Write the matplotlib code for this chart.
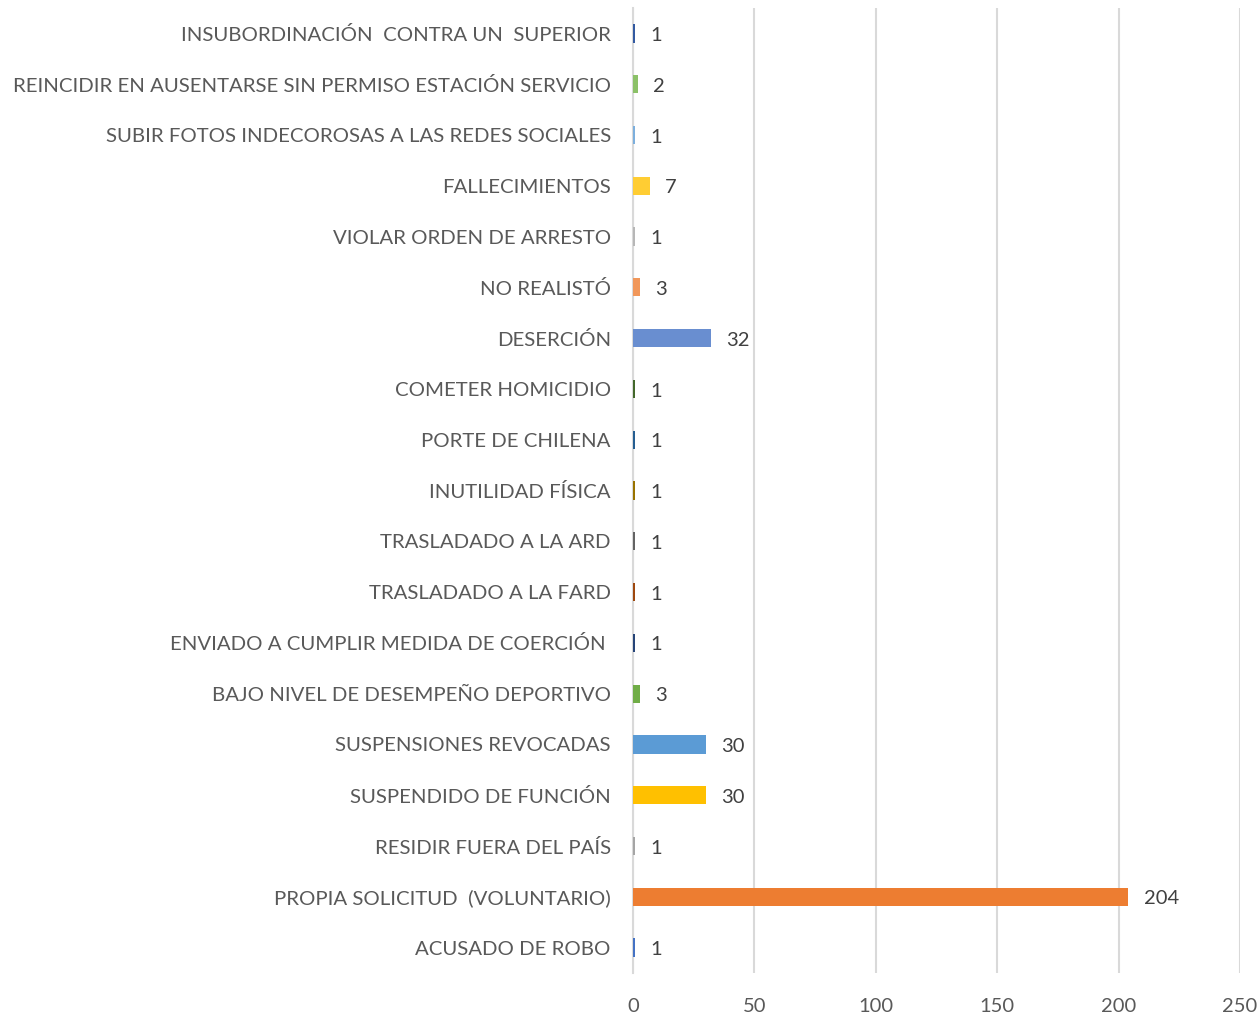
import matplotlib.pyplot as plt

# categories from bottom to top
categorias = [
    'ACUSADO DE ROBO',
    'PROPIA SOLICITUD  (VOLUNTARIO)',
    'RESIDIR FUERA DEL PAÍS',
    'SUSPENDIDO DE FUNCIÓN',
    'SUSPENSIONES REVOCADAS',
    'BAJO NIVEL DE DESEMPEÑO DEPORTIVO',
    'ENVIADO A CUMPLIR MEDIDA DE COERCIÓN ',
    'TRASLADADO A LA FARD',
    'TRASLADADO A LA ARD',
    'INUTILIDAD FÍSICA',
    'PORTE DE CHILENA',
    'COMETER HOMICIDIO',
    'DESERCIÓN',
    'NO REALISTÓ',
    'VIOLAR ORDEN DE ARRESTO',
    'FALLECIMIENTOS',
    'SUBIR FOTOS INDECOROSAS A LAS REDES SOCIALES',
    'REINCIDIR EN AUSENTARSE SIN PERMISO ESTACIÓN SERVICIO',
    'INSUBORDINACIÓN  CONTRA UN  SUPERIOR',
]
valores = [1, 204, 1, 30, 30, 3, 1, 1, 1, 1, 1, 1, 32, 3, 1, 7, 1, 2, 1]
colores = ['#4472C4', '#ED7D31', '#A5A5A5', '#FFC000', '#5B9BD5', '#70AD47',
           '#264478', '#9E480E', '#636363', '#997300', '#255E91', '#43682B',
           '#698ED0', '#F1975A', '#B7B7B7', '#FFCD33', '#7CAFDD', '#8CC168',
           '#335AA1']
ticks_x = [0, 50, 100, 150, 200, 250]

plt.rcParams['font.family'] = ['Lato', 'DejaVu Sans']
gris = '#595959'

fig = plt.figure(figsize=(12.6, 10.14), dpi=100)
ax = fig.add_axes([633 / 1260, 1 - 973 / 1014, (1240 - 633) / 1260, (973 - 8) / 1014])

pos = list(range(len(categorias)))
ax.barh(pos, valores, height=0.36, color=colores, zorder=3)
for y, v in zip(pos, valores):
    ax.annotate(str(v), (v, y), xytext=(11, -1.5), textcoords='offset points',
                ha='left', va='center', fontsize=14.5, color='#404040')

ax.set_xlim(0, 250)
ax.set_ylim(-0.5, len(categorias) - 0.5)
ax.set_xticks(ticks_x)
ax.set_yticks(pos)
ax.set_yticklabels(categorias)
ax.tick_params(axis='y', length=0, pad=16, labelsize=14.7, labelcolor=gris)
ax.tick_params(axis='x', length=0, pad=18, labelsize=14.5, labelcolor=gris)
ax.grid(axis='x', color='#D9D9D9', linewidth=1.5, zorder=0)
for s in ['top', 'right', 'bottom']:
    ax.spines[s].set_visible(False)
ax.spines['left'].set_color('#D9D9D9')
ax.spines['left'].set_linewidth(1.5)

fig.savefig('out.png', dpi=100)
